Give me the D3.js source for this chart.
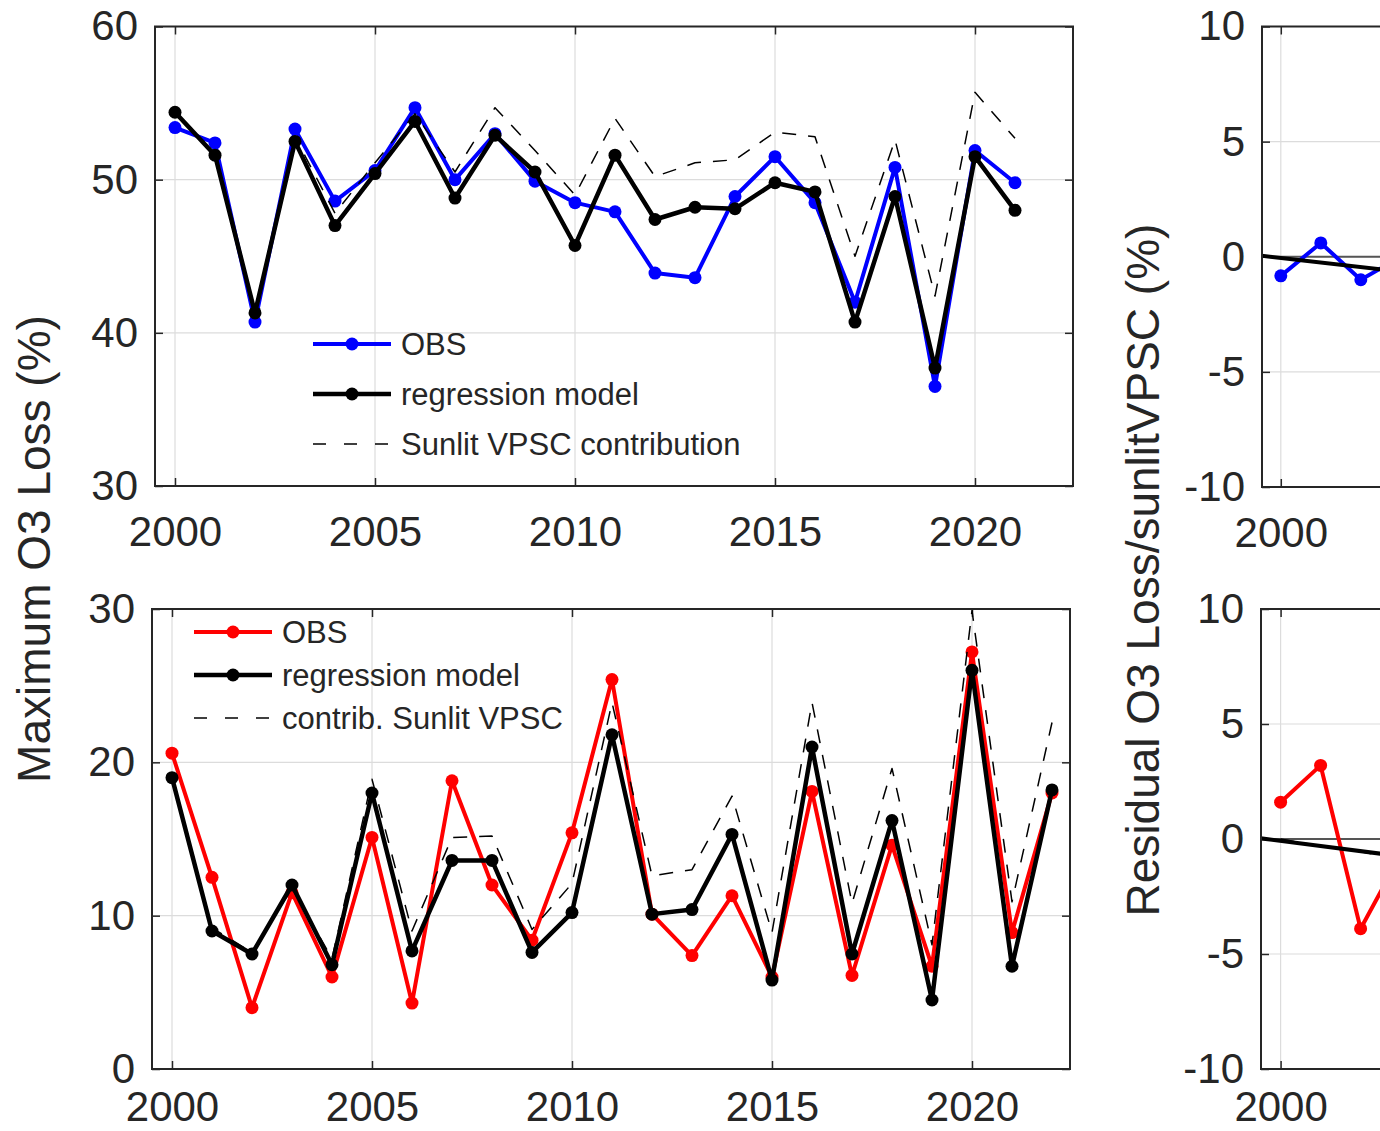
<!DOCTYPE html>
<html lang="en">
<head>
<meta charset="utf-8">
<title>Maximum O3 loss and regression model</title>
<script src="https://cdn.jsdelivr.net/npm/d3@7/dist/d3.min.js"></script>
<style>
  body { margin: 0; background: #fff; }
  svg { display: block; font-family: "Liberation Sans", Arial, Helvetica, sans-serif; }
  .tick text { fill: #262626; font-size: 42px; }
  .tick line { stroke: #262626; stroke-width: 1.5; }
</style>
</head>
<body>
<script>
// years
var years = d3.range(2000, 2023);
var yearsTop = d3.range(2000, 2022);

// top panel (blue OBS)
var topObs   = [53.4, 52.4, 40.7, 53.3, 48.6, 50.6, 54.7, 50.0, 53.0, 49.9, 48.5, 47.9, 43.9, 43.6, 48.9, 51.5, 48.5, 42.0, 50.8, 36.5, 51.9, 49.8];
var topModel = [54.4, 51.6, 41.3, 52.5, 47.0, 50.4, 53.8, 48.8, 52.9, 50.5, 45.7, 51.6, 47.4, 48.2, 48.1, 49.8, 49.2, 40.7, 48.9, 37.7, 51.5, 48.0];
var topSunlit = [54.3, 51.8, 41.5, 52.8, 47.8, 51.1, 54.3, 50.5, 54.7, 51.9, 49.0, 54.0, 50.2, 51.1, 51.3, 53.1, 52.8, 45.0, 52.6, 42.4, 55.7, 52.7];

// bottom panel (red OBS)
var botObs   = [20.6, 12.5, 4.0, 11.5, 6.0, 15.1, 4.3, 18.8, 12.0, 8.4, 15.4, 25.4, 10.1, 7.4, 11.3, 6.0, 18.1, 6.1, 14.6, 6.7, 27.2, 8.9, 18.0];
var botModel = [19.0, 9.0, 7.5, 12.0, 6.8, 18.0, 7.7, 13.6, 13.6, 7.6, 10.2, 21.8, 10.1, 10.4, 15.3, 5.8, 21.0, 7.5, 16.2, 4.5, 26.0, 6.7, 18.2];
var botSunlit = [19.2, 9.2, 7.6, 11.8, 7.2, 18.9, 9.0, 15.1, 15.2, 9.1, 12.1, 23.9, 12.6, 13.0, 17.8, 8.9, 23.9, 10.8, 19.6, 8.1, 29.9, 10.9, 22.6];

// right panels (residuals, only the start is visible)
var resYears = [2000, 2001, 2002, 2003];
var resTopObs = [-0.83, 0.6, -1.0, 0.0];
var resBotObs = [1.6, 3.2, -3.9, -0.7];
var trendYears = [1999.5, 2003];
var resTopTrend = [0.05, -0.65];
var resBotTrend = [0.03, -0.75];
var resBotSunlit = [0.0, -0.3, -0.55, -0.9];

var xTicks = [2000, 2005, 2010, 2015, 2020];
var yTicksTop = [30, 40, 50, 60];
var yTicksBot = [0, 10, 20, 30];
var yTicksRes = [-10, -5, 0, 5, 10];

var W = 1380, H = 1131;
var svg = d3.select("body").append("svg").attr("width", W).attr("height", H);

// plain hyphen minus like the original figure
var fmt = function(d) { return String(d); };

var panels = [
  { id: "tl", x0: 155, x1: 1073, y0: 26.5, y1: 486, xd: [1999.5, 2022.45], yd: [30, 60], yt: yTicksTop, pad: 30 },
  { id: "bl", x0: 152, x1: 1070, y0: 609, y1: 1069, xd: [1999.5, 2022.45], yd: [0, 30], yt: yTicksBot, pad: 22 },
  { id: "tr", x0: 1262, x1: 2180, y0: 26.5, y1: 487, xd: [1999.53, 2022.48], yd: [-10, 10], yt: yTicksRes, pad: 30 },
  { id: "br", x0: 1261, x1: 2179, y0: 609, y1: 1069, xd: [1999.51, 2022.46], yd: [-10, 10], yt: yTicksRes, pad: 22 }
];

panels.forEach(function(p) {
  p.x = d3.scaleLinear().domain(p.xd).range([p.x0, p.x1]);
  p.y = d3.scaleLinear().domain(p.yd).range([p.y1, p.y0]);
  p.g = svg.append("g");

  // only the x ticks that fall inside the picture
  var xt = xTicks.filter(function(d) { return p.x(d) < W; });

  svg.append("clipPath").attr("id", "clip-" + p.id)
    .append("rect").attr("x", p.x0).attr("y", p.y0)
    .attr("width", p.x1 - p.x0).attr("height", p.y1 - p.y0);

  // grid
  var grid = p.g.append("g").attr("stroke", "#dcdcdc").attr("stroke-width", 1.2);
  grid.selectAll(".gx").data(xt).enter().append("line")
    .attr("x1", function(d) { return p.x(d); }).attr("x2", function(d) { return p.x(d); })
    .attr("y1", p.y0).attr("y2", p.y1);
  grid.selectAll(".gy").data(p.yt).enter().append("line")
    .attr("y1", function(d) { return p.y(d); }).attr("y2", function(d) { return p.y(d); })
    .attr("x1", p.x0).attr("x2", Math.min(p.x1, W));

  // axes, MATLAB style inward ticks
  p.g.append("g").attr("transform", "translate(0," + p.y1 + ")")
    .call(d3.axisBottom(p.x).tickValues(xt).tickFormat(fmt).tickSize(-8).tickPadding(p.pad))
    .call(function(g) { g.select(".domain").remove(); });
  p.g.append("g").attr("transform", "translate(0," + p.y0 + ")")
    .call(d3.axisTop(p.x).tickValues(xt).tickFormat("").tickSize(-8))
    .call(function(g) { g.select(".domain").remove(); });
  p.g.append("g").attr("transform", "translate(" + p.x0 + ",0)")
    .call(d3.axisLeft(p.y).tickValues(p.yt).tickFormat(fmt).tickSize(-8).tickPadding(17))
    .call(function(g) { g.select(".domain").remove(); });
  if (p.x1 < W) {
    p.g.append("g").attr("transform", "translate(" + p.x1 + ",0)")
      .call(d3.axisRight(p.y).tickValues(p.yt).tickFormat("").tickSize(-8))
      .call(function(g) { g.select(".domain").remove(); });
  }

  p.plot = p.g.append("g").attr("clip-path", "url(#clip-" + p.id + ")");
});

function drawLine(p, xs, ys, color, width, dash) {
  var line = d3.line().x(function(d, i) { return p.x(xs[i]); }).y(function(d) { return p.y(d); });
  p.plot.append("path").datum(ys)
    .attr("d", line)
    .attr("fill", "none")
    .attr("stroke", color)
    .attr("stroke-width", width)
    .attr("stroke-linejoin", "round")
    .attr("stroke-dasharray", dash || null);
}

function drawDots(p, xs, ys, color, r) {
  p.plot.append("g").selectAll("circle").data(ys).enter().append("circle")
    .attr("cx", function(d, i) { return p.x(xs[i]); })
    .attr("cy", function(d) { return p.y(d); })
    .attr("r", r)
    .attr("fill", color);
}

var tl = panels[0], bl = panels[1], tr = panels[2], br = panels[3];

// top left
drawLine(tl, yearsTop, topObs, "#0000ff", 4);
drawDots(tl, yearsTop, topObs, "#0000ff", 6.5);
drawLine(tl, yearsTop, topModel, "#000", 4.5);
drawDots(tl, yearsTop, topModel, "#000", 6.5);
drawLine(tl, yearsTop, topSunlit, "#000", 1.5, "14,12");

// bottom left
drawLine(bl, years, botObs, "#ff0000", 4);
drawDots(bl, years, botObs, "#ff0000", 6.5);
drawLine(bl, years, botModel, "#000", 4.5);
drawDots(bl, years, botModel, "#000", 6.5);
drawLine(bl, years, botSunlit, "#000", 1.5, "14,12");

// top right
drawLine(tr, [1999.5, 2023], [0, 0], "#555", 2);
drawLine(tr, resYears, resTopObs, "#0000ff", 4);
drawDots(tr, resYears, resTopObs, "#0000ff", 6.5);
drawLine(tr, trendYears, resTopTrend, "#000", 4);

// bottom right
drawLine(br, [1999.5, 2023], [0, 0], "#555", 2);
drawLine(br, resYears, resBotObs, "#ff0000", 4);
drawDots(br, resYears, resBotObs, "#ff0000", 6.5);
drawLine(br, trendYears, resBotTrend, "#000", 4);
drawLine(br, resYears, resBotSunlit, "#000", 1.5, "14,12");

// frames
panels.forEach(function(p) {
  p.g.append("rect").attr("x", p.x0).attr("y", p.y0)
    .attr("width", p.x1 - p.x0).attr("height", p.y1 - p.y0)
    .attr("fill", "none").attr("stroke", "#262626").attr("stroke-width", 2);
});

// legends
function legend(x, y, dy, color, labels) {
  var g = svg.append("g").attr("transform", "translate(" + x + "," + y + ")");
  var items = [
    { label: labels[0], color: color, w: 4, dash: null, dot: true },
    { label: labels[1], color: "#000", w: 4.5, dash: null, dot: true },
    { label: labels[2], color: "#000", w: 1.5, dash: "13,18", dot: false }
  ];
  items.forEach(function(it, i) {
    var row = g.append("g").attr("transform", "translate(0," + (i * dy) + ")");
    row.append("line").attr("x1", 0).attr("x2", 78).attr("y1", 0).attr("y2", 0)
      .attr("stroke", it.color).attr("stroke-width", it.w).attr("stroke-dasharray", it.dash);
    if (it.dot) row.append("circle").attr("cx", 39).attr("cy", 0).attr("r", 6.5).attr("fill", it.color);
    row.append("text").attr("x", 88).attr("y", 0).attr("dy", "0.36em")
      .attr("font-size", 31).attr("fill", "#262626").text(it.label);
  });
}
legend(313, 344, 50, "#0000ff", ["OBS", "regression model", "Sunlit VPSC contribution"]);
legend(194, 632, 43, "#ff0000", ["OBS", "regression model", "contrib. Sunlit VPSC"]);

// y labels
svg.append("text")
  .attr("transform", "translate(50,549) rotate(-90)")
  .attr("text-anchor", "middle").attr("font-size", 46).attr("fill", "#262626")
  .text("Maximum O3 Loss (%)");
svg.append("text")
  .attr("transform", "translate(1159,570) rotate(-90)")
  .attr("text-anchor", "middle").attr("font-size", 46).attr("fill", "#262626")
  .text("Residual O3 Loss/sunlitVPSC (%)");
</script>
</body>
</html>
